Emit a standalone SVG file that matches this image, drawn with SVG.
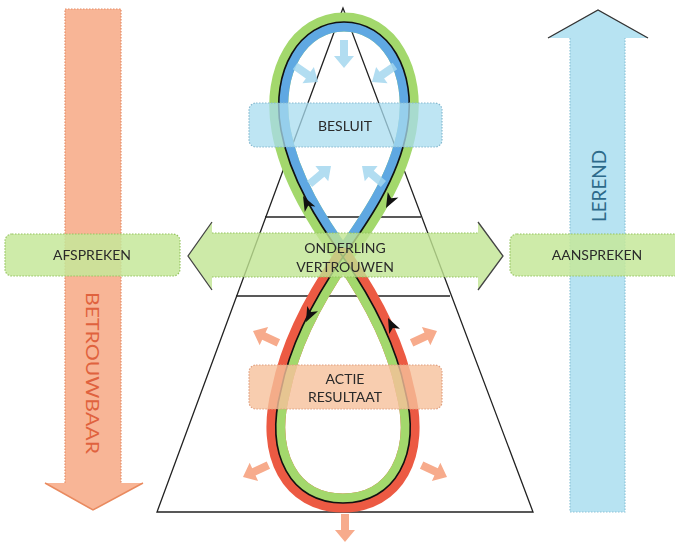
<svg xmlns="http://www.w3.org/2000/svg" width="675" height="543" viewBox="0 0 675 543">
<style>
  .lbl { font-family: Lato, "Open Sans", "DejaVu Sans", sans-serif; font-size: 14px; fill: #2a2a2a; text-anchor: middle; }
  .dot { fill: none; stroke-width: 1.2; stroke-dasharray: 1.5 1.5; }
  .tri { fill: none; stroke: #222; stroke-width: 1.3; }
  .path8 { fill: none; stroke: #111; stroke-width: 1.6; stroke-linejoin: round; }
</style>
<defs>
  <path id="topLoop" d="M343,257 C320,225 290,180 281,130 C270,70 300,22 344,22 C388,22 418,70 407,130 C398,180 366,225 343,257 Z"/>
  <path id="botLoop" d="M343,257 C366,290 395,340 405,390 C422,455 395,503 343,503 C291,503 264,455 281,390 C291,340 320,290 343,257 Z"/>
  <clipPath id="topClip"><use href="#topLoop"/></clipPath>
  <clipPath id="botClip"><use href="#botLoop"/></clipPath>
  <path id="blk" d="M0,0 L-15,-6 L-11,0 L-15,6 Z"/>
  <path id="blockArrow" d="M0,0 L-12,-10 L-12,-4 L-28,-4 L-28,4 L-12,4 L-12,10 Z"/>
</defs>

<rect width="675" height="543" fill="#ffffff"/>

<!-- left orange arrow -->
<g id="betrouwbaar">
  <rect x="65" y="9" width="56" height="475" fill="#f8b596"/>
  <polygon points="45,483 143,483 93,510" fill="#f8b596"/>
  <polyline points="45,483 93,510 143,483" fill="none" stroke="#e98a5f" stroke-width="1.5"/>
  <path class="dot" stroke="#e58e68" d="M65,483 V9 H121 V483"/>
  <text transform="translate(93,373) rotate(90)" font-family="Lato, 'Open Sans', sans-serif" font-size="18" fill="#e0623e" text-anchor="middle" dominant-baseline="central" textLength="162" lengthAdjust="spacingAndGlyphs">BETROUWBAAR</text>
</g>

<!-- right blue arrow -->
<g id="lerend">
  <rect x="570" y="37" width="55" height="475" fill="#b7e3f2"/>
  <polygon points="548,38 598,10 648,38" fill="#b7e3f2"/>
  <polyline points="548,38 598,10 648,38" fill="none" stroke="#333" stroke-width="1.4"/>
  <path class="dot" stroke="#8ec3d8" d="M570,38 V512 H625 V38"/>
  <text transform="translate(598,186) rotate(-90)" font-family="Lato, 'Open Sans', sans-serif" font-size="19" fill="#2d6a8a" text-anchor="middle" dominant-baseline="central" textLength="72" lengthAdjust="spacingAndGlyphs">LEREND</text>
</g>

<!-- pyramid -->
<g id="pyramid">
  <polygon class="tri" points="343,8 157,512 533,512"/>
  <line class="tri" x1="265" y1="217" x2="421" y2="217"/>
  <line class="tri" x1="236" y1="296" x2="450" y2="296"/>
</g>

<!-- figure eight loops -->
<g id="loops">
  <use href="#topLoop" fill="none" stroke="#a3d86c" stroke-width="19" stroke-linejoin="round"/>
  <use href="#topLoop" fill="none" stroke="#5fa8e2" stroke-width="19" clip-path="url(#topClip)"/>
  <use href="#botLoop" fill="none" stroke="#ec5a43" stroke-width="19" stroke-linejoin="round"/>
  <use href="#botLoop" fill="none" stroke="#a3d86c" stroke-width="19" clip-path="url(#botClip)"/>
  <use href="#topLoop" class="path8"/>
  <use href="#botLoop" class="path8"/>
  <use href="#blk" transform="translate(303,196) rotate(-118)" fill="#111"/>
  <use href="#blk" transform="translate(386,208) rotate(118)" fill="#111"/>
  <use href="#blk" transform="translate(306,322) rotate(116)" fill="#111"/>
  <use href="#blk" transform="translate(388,318) rotate(-116)" fill="#111"/>
</g>

<!-- inward blue arrows -->
<g id="inward" fill="#a4d7ef" opacity="0.85">
  <use href="#blockArrow" transform="translate(344,68) rotate(90)"/>
  <use href="#blockArrow" transform="translate(318,82) rotate(35)"/>
  <use href="#blockArrow" transform="translate(372,82) rotate(145)"/>
  <use href="#blockArrow" transform="translate(331,166) rotate(-40)"/>
  <use href="#blockArrow" transform="translate(362,166) rotate(-140)"/>
</g>

<!-- outward orange arrows -->
<g id="outward" fill="#f6a27f" opacity="0.9">
  <use href="#blockArrow" transform="translate(253,331) rotate(-155)"/>
  <use href="#blockArrow" transform="translate(437,331) rotate(-25)"/>
  <use href="#blockArrow" transform="translate(243,477) rotate(155)"/>
  <use href="#blockArrow" transform="translate(447,477) rotate(25)"/>
  <use href="#blockArrow" transform="translate(345,542) rotate(90)"/>
</g>

<!-- BESLUIT -->
<g id="besluit">
  <rect x="249" y="103" width="193" height="44" rx="7" fill="#a8dcef" fill-opacity="0.75"/>
  <rect class="dot" x="249" y="103" width="193" height="44" rx="7" stroke="#86b9cf"/>
  <text class="lbl" x="345" y="131">BESLUIT</text>
</g>

<!-- ACTIE RESULTAAT -->
<g id="actie">
  <rect x="249" y="365" width="193" height="44" rx="7" fill="#f6c09b" fill-opacity="0.8"/>
  <rect class="dot" x="249" y="365" width="193" height="44" rx="7" stroke="#e0a080"/>
  <text class="lbl" x="345" y="384">ACTIE</text>
  <text class="lbl" x="345" y="402">RESULTAAT</text>
</g>

<!-- ONDERLING VERTROUWEN double arrow -->
<g id="onderling">
  <polygon points="188,256 212,222 212,233 478,233 478,222 503,256 478,290 478,277 212,277 212,290" fill="#c0e592" fill-opacity="0.8"/>
  <path class="dot" stroke="#94c35e" d="M212,233 H478 M212,277 H478"/>
  <polyline points="212,222 188,256 212,290" fill="none" stroke="#444" stroke-width="1.3"/>
  <polyline points="478,222 503,256 478,290" fill="none" stroke="#444" stroke-width="1.3"/>
  <text class="lbl" x="345" y="253">ONDERLING</text>
  <text class="lbl" x="345" y="272">VERTROUWEN</text>
</g>

<!-- AFSPREKEN -->
<g id="afspreken">
  <rect x="5" y="234" width="175" height="42" rx="7" fill="#c6e89a" fill-opacity="0.85"/>
  <rect class="dot" x="5" y="234" width="175" height="42" rx="7" stroke="#94c35e"/>
  <text class="lbl" x="92" y="260">AFSPREKEN</text>
</g>

<!-- AANSPREKEN -->
<g id="aanspreken">
  <rect x="510" y="234" width="175" height="42" rx="7" fill="#c6e89a" fill-opacity="0.85"/>
  <rect class="dot" x="510" y="234" width="175" height="42" rx="7" stroke="#94c35e"/>
  <text class="lbl" x="597" y="260">AANSPREKEN</text>
</g>
</svg>
